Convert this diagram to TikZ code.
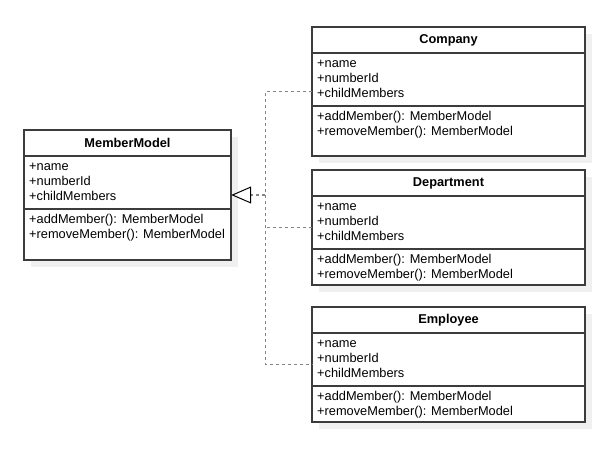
\documentclass[tikz,border=0pt]{standalone}
\usepackage{fontspec}
\setmainfont{Liberation Sans}
\usetikzlibrary{arrows.meta,positioning,fit,shadows}
\definecolor{edgegray}{HTML}{858585}
\definecolor{linegray}{HTML}{3C3C3C}
\definecolor{shadegray}{HTML}{F0F0F0}

\begin{document}
\begin{tikzpicture}[x=1pt, y=-1pt, every node/.style={font=\fontsize{12.8}{15}\selectfont},
  classhead/.style={rectangle, draw=linegray, fill=white, line width=1.1pt, outer sep=0pt, inner sep=0pt, minimum height=26pt, font=\fontsize{12.8}{15}\selectfont\bfseries,
    drop shadow={shadow xshift=7pt, shadow yshift=-7pt, fill=shadegray, opacity=1}},
  classpart/.style={rectangle, draw=linegray, fill=white, line width=1.1pt, outer sep=0pt, inner sep=0pt,
    drop shadow={shadow xshift=7pt, shadow yshift=-7pt, fill=shadegray, opacity=1}},
  members/.style={anchor=north west, align=left, inner xsep=5pt, inner ysep=3.5pt},
  realize/.style={line width=1.2pt, color=edgegray, dash pattern=on 3pt off 3pt},
  hollow/.style={-{Triangle[open, length=20pt, width=17pt, color=black, line width=1pt]}},
]
\useasboundingbox (0,0) rectangle (616,455);

% Base class — left
\node[classhead, minimum width=207pt] (memberHead) at (127.5,143) {MemberModel};
\node[classpart, minimum width=207pt, minimum height=53pt, below=0pt of memberHead] (memberAttrs) {};
\node[classpart, minimum width=207pt, minimum height=51pt, below=0pt of memberAttrs] (memberOps) {};
\node[members] (memberAttrText) at (memberAttrs.north west) {\strut+name\\+numberId\\+childMembers};
\node[members] (memberOpsText) at (memberOps.north west) {\strut+addMember(): MemberModel\\+removeMember(): MemberModel};
\node[fit=(memberHead)(memberOps), inner sep=0pt] (member) {};

% Company — top right
\node[classhead, minimum width=273pt] (companyHead) at (448.5,40) {Company};
\node[classpart, minimum width=273pt, minimum height=53pt, below=0pt of companyHead] (companyAttrs) {};
\node[classpart, minimum width=273pt, minimum height=50pt, below=0pt of companyAttrs] (companyOps) {};
\node[members] (companyAttrText) at (companyAttrs.north west) {\strut+name\\+numberId\\+childMembers};
\node[members] (companyOpsText) at (companyOps.north west) {\strut+addMember(): MemberModel\\+removeMember(): MemberModel};
\node[fit=(companyHead)(companyOps), inner sep=0pt] (company) {};

% Department — middle right
\node[classhead, minimum width=273pt] (departmentHead) at (448.5,183) {Department};
\node[classpart, minimum width=273pt, minimum height=53pt, below=0pt of departmentHead] (departmentAttrs) {};
\node[classpart, minimum width=273pt, minimum height=36pt, below=0pt of departmentAttrs] (departmentOps) {};
\node[members] (departmentAttrText) at (departmentAttrs.north west) {\strut+name\\+numberId\\+childMembers};
\node[members] (departmentOpsText) at (departmentOps.north west) {\strut+addMember(): MemberModel\\+removeMember(): MemberModel};
\node[fit=(departmentHead)(departmentOps), inner sep=0pt] (department) {};

% Employee — bottom right
\node[classhead, minimum width=273pt] (employeeHead) at (448.5,320) {Employee};
\node[classpart, minimum width=273pt, minimum height=53pt, below=0pt of employeeHead] (employeeAttrs) {};
\node[classpart, minimum width=273pt, minimum height=36pt, below=0pt of employeeAttrs] (employeeOps) {};
\node[members] (employeeAttrText) at (employeeAttrs.north west) {\strut+name\\+numberId\\+childMembers};
\node[members] (employeeOpsText) at (employeeOps.north west) {\strut+addMember(): MemberModel\\+removeMember(): MemberModel};
\node[fit=(employeeHead)(employeeOps), inner sep=0pt] (employee) {};

% Realization connectors to the base class
\coordinate[right=34pt of member.east] (join);
\draw[realize] (company.west) -| (join) |- (employee.west);
\draw[realize] (department.west) -- (department.west -| join);
\draw[realize, hollow] (join) -- (member.east);

\end{tikzpicture}
\end{document}
